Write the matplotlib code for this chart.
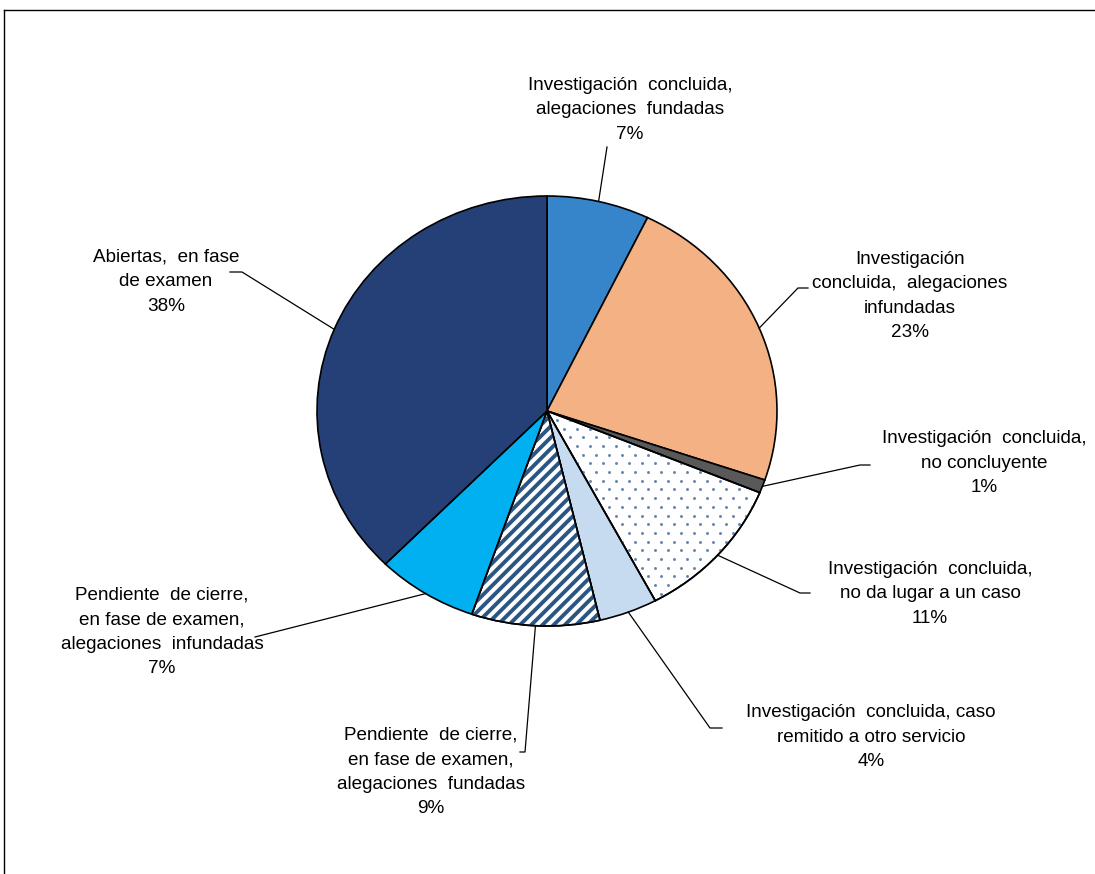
import numpy as np
import matplotlib
matplotlib.use("Agg")
import matplotlib.pyplot as plt
from matplotlib.patches import Wedge
from matplotlib.lines import Line2D
from matplotlib.collections import LineCollection
from matplotlib.transforms import IdentityTransform

plt.rcParams['font.family'] = ['Liberation Sans', 'DejaVu Sans']

# ---- data (clockwise from top) ----
categories = [
    "Investigación  concluida,\nalegaciones  fundadas",
    "Investigación\nconcluida,  alegaciones\ninfundadas",
    "Investigación  concluida,\nno concluyente",
    "Investigación  concluida,\nno da lugar a un caso",
    "Investigación  concluida, caso\nremitido a otro servicio",
    "Pendiente  de cierre,\nen fase de examen,\nalegaciones  fundadas",
    "Pendiente  de cierre,\nen fase de examen,\nalegaciones  infundadas",
    "Abiertas,  en fase\nde examen",
]
values = [7.2, 23.0, 1.0, 11.0, 4.1, 9.0, 7.1, 37.6]
colors = ["#3685CB", "#F4B183", "#595959", "#FFFFFF", "#C6DBEF",
          "#FFFFFF", "#00B0F0", "#254077"]

# label layout (pixel positions in the 1095x874 image)
label_pos = [(630, 110), (910, 296), (984, 463), (930, 594),
             (871, 737), (431, 772), (162, 632), (166, 282)]
elbow = [(607, 147), (798, 288), (860, 465), (800, 593),
         (710, 728), (525, 752), (255, 637), (242, 272)]
tail = [None, (808, 288), (870, 465), (810, 593),
        (722, 728), (520, 752), None, (230, 272)]

W, H = 1095, 874
CX, CY = 547, 411
RX, RY = 230, 215

fig = plt.figure(figsize=(W / 100, H / 100), dpi=100)
ax = fig.add_axes([0, 0, 1, 1])

wedges, _ = ax.pie(values, colors=colors, startangle=90, counterclock=False,
                   radius=1.0, center=(0, 0),
                   wedgeprops=dict(edgecolor="black", linewidth=1.2))
ax.set_aspect('auto')
ax.set_xlim(-CX / RX, (W - CX) / RX)
ax.set_ylim(-(H - CY) / RY, CY / RY)
ax.axis('off')


def to_data(p):
    return ((p[0] - CX) / RX, (CY - p[1]) / RY)


def outline(w):
    o = Wedge(w.center, w.r, w.theta1, w.theta2, facecolor='none',
              edgecolor='black', linewidth=1.2, zorder=w.get_zorder() + 0.2)
    ax.add_patch(o)


# pie bounding box in display pixels (y up)
x0, x1 = CX - RX - 20, CX + RX + 20
y0, y1 = H - (CY + RY) - 20, H - (CY - RY) + 20

# diagonal stripes for the 9% slice
pitch = 11.2
segs = []
for c in np.arange(x0 - (y1 - y0), x1, pitch):
    segs.append([(c, y0), (c + (y1 - y0), y1)])
stripes = LineCollection(segs, colors='#2B5683', linewidths=2.8,
                         transform=IdentityTransform(),
                         zorder=wedges[5].get_zorder() + 0.1)
ax.add_collection(stripes)
stripes.set_clip_path(wedges[5])
outline(wedges[5])

# dotted pattern for the 11% slice
dx, dy = 13.0, 8.7
pts = []
for j, yy in enumerate(np.arange(y0, y1, dy)):
    off = (dx / 2) if j % 2 else 0.0
    for xx in np.arange(x0 + off, x1, dx):
        pts.append((xx, yy))
pts = np.array(pts)
dots = ax.scatter(pts[:, 0], pts[:, 1], s=4.5, c='#6285B0', linewidths=0,
                  transform=IdentityTransform(),
                  zorder=wedges[3].get_zorder() + 0.1)
dots.set_clip_path(wedges[3])
outline(wedges[3])

for i, w in enumerate(wedges):
    mid = np.deg2rad((w.theta1 + w.theta2) / 2)
    start = (np.cos(mid), np.sin(mid))
    lpts = [start, to_data(elbow[i])]
    if tail[i] is not None:
        lpts.append(to_data(tail[i]))
    xs, ys = zip(*lpts)
    ax.add_line(Line2D(xs, ys, color='black', linewidth=0.9, zorder=5))
    txt = categories[i] + "\n" + f"{round(values[i])}%"
    tx, ty = to_data(label_pos[i])
    ax.text(tx, ty, txt, ha='center', va='center', multialignment='center',
            fontsize=13.6, linespacing=1.58, color='black', zorder=6)

# chart area border (left and top edges visible)
fig.add_artist(Line2D([4 / W, 4 / W], [0, 1 - 10 / H], transform=fig.transFigure,
                      color='black', linewidth=1.0))
fig.add_artist(Line2D([4 / W, 1], [1 - 10 / H, 1 - 10 / H], transform=fig.transFigure,
                      color='black', linewidth=1.0))

fig.savefig("out.png", dpi=100, facecolor='white')
